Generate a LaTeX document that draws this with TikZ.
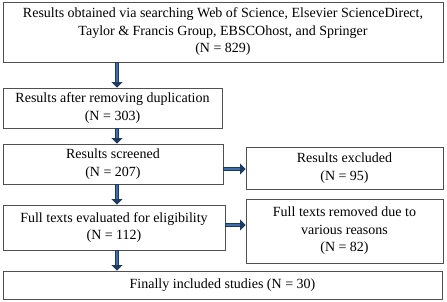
\documentclass[tikz,border=0pt]{standalone}
\usepackage{fontspec}
\setmainfont{Liberation Serif}
\usetikzlibrary{arrows.meta,calc}
\definecolor{boxline}{HTML}{505050}
\definecolor{arrowblue}{HTML}{3F6FA8}
\definecolor{arrowdark}{HTML}{1F3A60}
\tikzset{
  box/.style={draw=boxline, line width=0.9pt, align=center, inner sep=0pt,
    font=\fontsize{14}{17.5}\selectfont},
  fatarrow/.style={draw=arrowdark, line width=4.5pt,
    -{Triangle[length=5.5pt,width=11pt]}},
  fatinner/.style={draw=arrowblue, line width=2pt, shorten >=5.5pt, shorten <=0.8pt}
}
\begin{document}
\begin{tikzpicture}[x=1pt,y=-1pt]
\useasboundingbox (0,0) rectangle (447,302);
\node[box, minimum width=440pt, minimum height=60pt] (b1) at (223,32)
  {Results obtained via searching Web of Science, Elsevier ScienceDirect,\\
   Taylor \& Francis Group, EBSCOhost, and Springer\\(N = 829)};
\node[box, minimum width=219pt, minimum height=40pt] (b2) at (112.5,108)
  {Results after removing duplication\\(N = 303)};
\node[box, minimum width=220pt, minimum height=40pt] (b3) at (113,164)
  {Results screened\\(N = 207)};
\node[box, minimum width=222pt, minimum height=45pt] (b4) at (114,227.5)
  {Full texts evaluated for eligibility\\(N = 112)};
\node[box, minimum width=197pt, minimum height=42pt] (b5) at (344.5,168)
  {Results excluded\\(N = 95)};
\node[box, minimum width=197pt, minimum height=64pt] (b6) at (344.5,231)
  {Full texts removed due to\\various reasons\\(N = 82)};
\node[box, minimum width=439pt, minimum height=28pt] (b7) at (222.5,285)
  {Finally included studies (N = 30)};
\coordinate (ax) at (117,0);
\coordinate (r1) at (0,169);
\coordinate (r2) at (0,225);
\foreach \s/\t/\c in {b1.south/b2.north/ax, b2.south/b3.north/ax,
                      b3.south/b4.north/ax, b4.south/b7.north/ax}{
  \draw[fatarrow] (\s -| \c) -- (\t -| \c);
  \draw[fatinner] (\s -| \c) -- (\t -| \c);
}
\foreach \s/\t/\c in {b3.east/b5.west/r1, b4.east/b6.west/r2}{
  \draw[fatarrow] (\s |- \c) -- (\t |- \c);
  \draw[fatinner] (\s |- \c) -- (\t |- \c);
}
\end{tikzpicture}
\end{document}
